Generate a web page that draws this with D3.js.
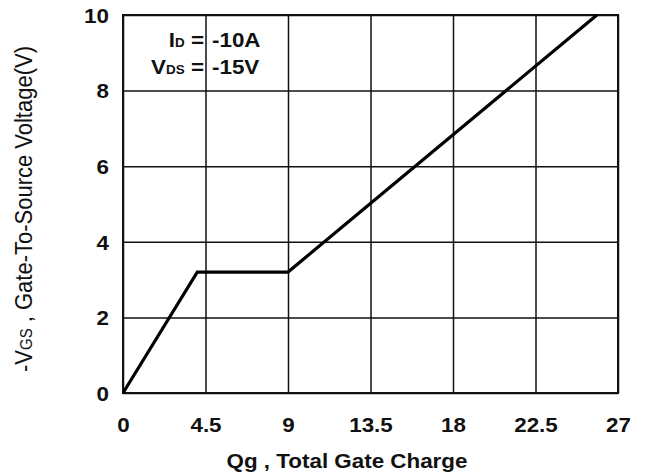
<!DOCTYPE html>
<html>
<head>
<meta charset="utf-8">
<script src="https://cdn.jsdelivr.net/npm/d3@7"></script>
<style>
  html, body { margin: 0; padding: 0; background: #fff; }
  svg { display: block; }
  text { font-family: "Liberation Sans", Arial, sans-serif; fill: #111; }
</style>
</head>
<body>
<svg id="chart" width="651" height="473"></svg>
<script>
// ---- data ----
const qgValues = [0, 4.05, 9, 25.85];          // Qg, total gate charge
const vgsValues = [0, 3.2, 3.2, 10];           // -VGS (V)
const xTickValues = [0, 4.5, 9, 13.5, 18, 22.5, 27];
const xTickLabels = ["0", "4.5", "9", "13.5", "18", "22.5", "27"];
const yTickValues = [0, 2, 4, 6, 8, 10];
const yTickLabels = ["0", "2", "4", "6", "8", "10"];

// ---- layout ----
const W = 651, H = 473;
const m = { left: 123, right: 33, top: 15, bottom: 80 };
const iw = W - m.left - m.right;
const ih = H - m.top - m.bottom;
const SX = 1.12; // horizontal stretch of text, as in the reference

const svg = d3.select("#chart");
const g = svg.append("g").attr("transform", `translate(${m.left},${m.top})`);

const x = d3.scaleLinear().domain([0, 27]).range([0, iw]);
const y = d3.scaleLinear().domain([0, 10]).range([ih, 0]);

// x grid + labels
const xAxis = g.append("g")
  .attr("transform", `translate(0,${ih})`)
  .call(d3.axisBottom(x).tickValues(xTickValues)
    .tickFormat((d, i) => xTickLabels[i]).tickSize(-ih).tickSizeOuter(0));
xAxis.select(".domain").remove();
xAxis.selectAll(".tick line").attr("stroke", "#111").attr("stroke-width", 1.5);
xAxis.selectAll(".tick text")
  .attr("y", 39).attr("dy", null)
  .attr("transform", `scale(${SX},1)`)
  .style("font-size", "20px").style("font-weight", "bold")
  .attr("fill", "#111");

// y grid + labels
const yAxis = g.append("g")
  .call(d3.axisLeft(y).tickValues(yTickValues)
    .tickFormat((d, i) => yTickLabels[i]).tickSize(-iw).tickSizeOuter(0).tickPadding(14));
yAxis.select(".domain").remove();
yAxis.selectAll(".tick line").attr("stroke", "#111").attr("stroke-width", 1.5);
yAxis.selectAll(".tick text")
  .attr("x", -14 / SX).attr("dy", "0.36em")
  .attr("transform", `scale(${SX},1)`)
  .style("font-size", "20px").style("font-weight", "bold")
  .attr("fill", "#111");

// frame
g.append("rect").attr("x", 0).attr("y", 0).attr("width", iw).attr("height", ih)
  .attr("fill", "none").attr("stroke", "#111").attr("stroke-width", 2);

// curve
const pts = qgValues.map((q, i) => [q, vgsValues[i]]);
g.append("path").datum(pts)
  .attr("fill", "none").attr("stroke", "#000").attr("stroke-width", 3.2)
  .attr("stroke-linejoin", "miter")
  .attr("d", d3.line().x(d => x(d[0])).y(d => y(d[1])));

// annotation
function annot(xpos, ypos, anchor, parts) {
  const t = svg.append("text")
    .attr("transform", `translate(${xpos},${ypos}) scale(${SX},1)`)
    .attr("text-anchor", anchor)
    .style("font-weight", "bold");
  parts.forEach(p => t.append("tspan").text(p[0]).style("font-size", p[1] + "px"));
}
annot(204, 47, "end", [["I", 20], ["D", 12], [" =", 20]]);
annot(212, 47, "start", [["-10A", 20]]);
annot(204, 74, "end", [["V", 20], ["DS", 12], [" =", 20]]);
annot(212, 74, "start", [["-15V", 20]]);

// x axis title
svg.append("text")
  .attr("transform", `translate(347,468) scale(${SX},1)`)
  .attr("text-anchor", "middle")
  .style("font-size", "20px").style("font-weight", "bold")
  .text("Qg , Total Gate Charge");

// y axis title
const yt = svg.append("text")
  .attr("transform", `translate(32,209) rotate(-90) scale(1,${SX})`)
  .attr("text-anchor", "middle")
  .style("font-size", "22px");
yt.append("tspan").text("-V");
yt.append("tspan").text("GS").style("font-size", "15px");
yt.append("tspan").text(" , Gate-To-Source Voltage(V)");
</script>
</body>
</html>
